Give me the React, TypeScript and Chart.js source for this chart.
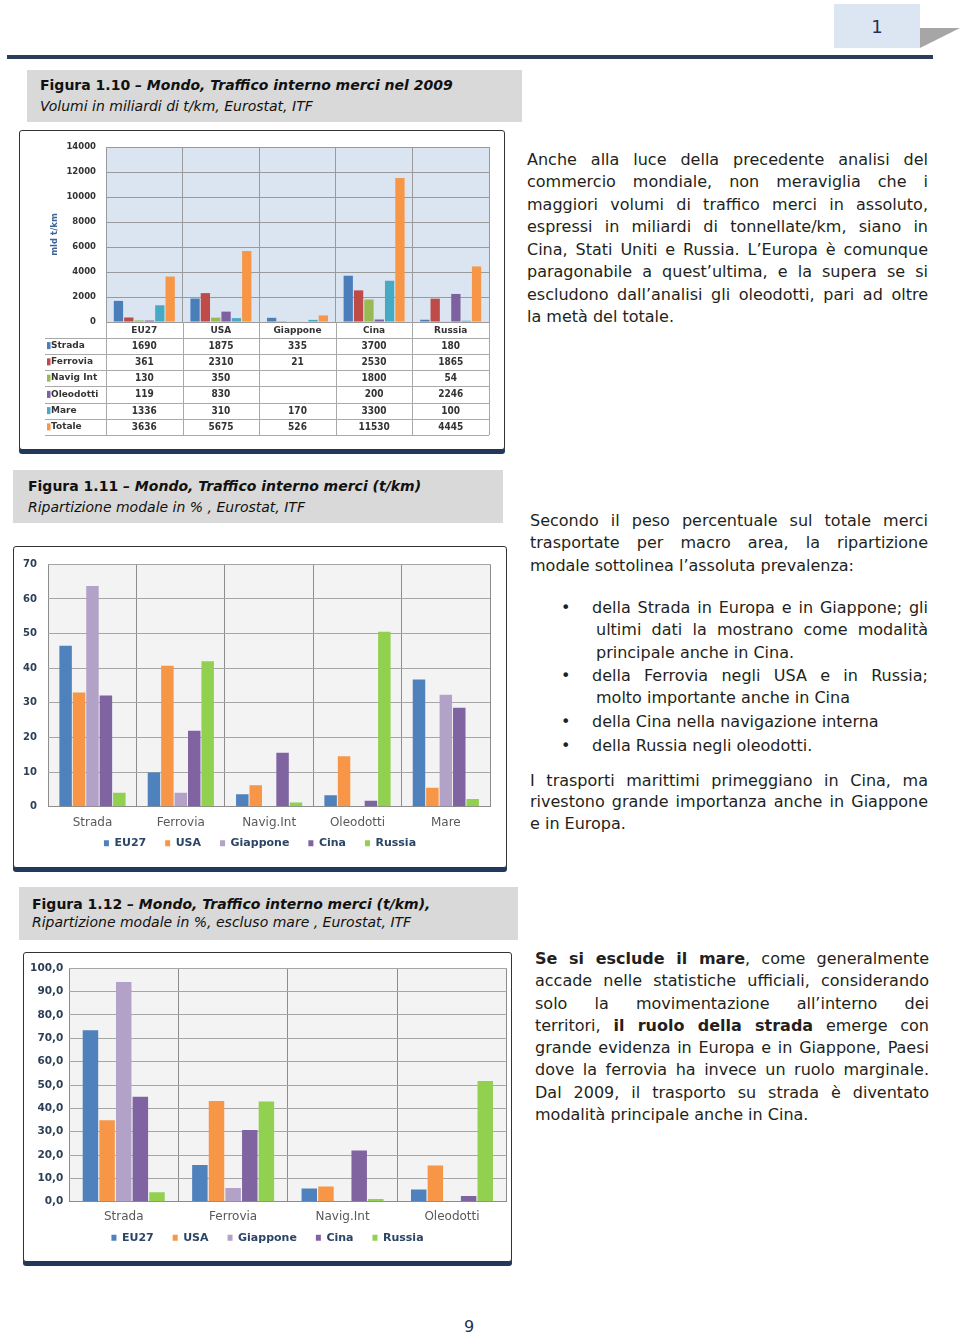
import React, { useEffect, useRef } from "react";
import { Chart, registerables } from "chart.js";

Chart.register(...registerables);
Chart.defaults.font.family = '"DejaVu Sans", sans-serif';

// ---------- Figura 1.10 : volumi (mld t/km) ----------
const areas = ["EU27", "USA", "Giappone", "Cina", "Russia"];
const modesAbs = ["Strada", "Ferrovia", "Navig Int", "Oleodotti", "Mare", "Totale"];
const stradaAbs = [1690, 1875, 335, 3700, 180];
const ferroviaAbs = [361, 2310, 21, 2530, 1865];
const navigAbs = [130, 350, null, 1800, 54];
const oleodottiAbs = [119, 830, null, 200, 2246];
const mareAbs = [1336, 310, 170, 3300, 100];
const totaleAbs = [3636, 5675, 526, 11530, 4445];
const yTicksAbs = [0, 2000, 4000, 6000, 8000, 10000, 12000, 14000];
const colorsAbs = ["#4a7ebb", "#be4b48", "#98b954", "#7d60a0", "#46aac5", "#f79646"];

// ---------- Figura 1.11 : ripartizione modale % ----------
const modesPct = ["Strada", "Ferrovia", "Navig.Int", "Oleodotti", "Mare"];
const eu27Pct = [46.5, 9.9, 3.6, 3.3, 36.7];
const usaPct = [33.0, 40.7, 6.2, 14.6, 5.5];
const giapponePct = [63.7, 4.0, null, null, 32.3];
const cinaPct = [32.1, 21.9, 15.6, 1.7, 28.6];
const russiaPct = [4.0, 42.0, 1.2, 50.5, 2.2];
const yTicksPct = [0, 10, 20, 30, 40, 50, 60, 70];

// ---------- Figura 1.12 : ripartizione modale % escluso mare ----------
const modesExcl = ["Strada", "Ferrovia", "Navig.Int", "Oleodotti"];
const eu27Excl = [73.5, 15.7, 5.7, 5.2];
const usaExcl = [34.9, 43.1, 6.5, 15.5];
const giapponeExcl = [94.1, 5.9, null, null];
const cinaExcl = [45.0, 30.7, 21.9, 2.4];
const russiaExcl = [4.1, 42.9, 1.2, 51.7];
const yTicksExcl = [0, 10, 20, 30, 40, 50, 60, 70, 80, 90, 100];

const colorsAreas = ["#4f81bd", "#f79646", "#b3a2c7", "#8064a2", "#92d050"];

const plotBg = {
  id: "plotBg",
  beforeDraw(chart: any, _args: any, opts: any) {
    const { ctx, chartArea: a } = chart;
    ctx.save();
    ctx.fillStyle = opts.color;
    ctx.fillRect(a.left, a.top, a.right - a.left, a.bottom - a.top);
    ctx.restore();
  },
};

// category names under the plot (drawn from the x scale, not clipped by the thin axis box)
const catLabels = {
  id: "catLabels",
  afterDraw(chart: any, _args: any, opts: any) {
    const { ctx, chartArea: a } = chart;
    const xs = chart.scales.x;
    ctx.save();
    ctx.font = '12px "DejaVu Sans"';
    ctx.fillStyle = "#595959";
    ctx.textAlign = "center";
    ctx.textBaseline = "middle";
    chart.data.labels.forEach((l: string, i: number) => {
      ctx.fillText(l, xs.getPixelForValue(i), a.bottom + opts.offset);
    });
    ctx.restore();
  },
};

const dataTable = {
  id: "dataTable",
  afterDraw(chart: any, _args: any, opts: any) {
    const { ctx, chartArea: a } = chart;
    const xs = chart.scales.x;
    const n = chart.data.labels.length;
    const cw = (a.right - a.left) / n;
    const top = a.bottom;
    const headerH = opts.headerH;
    const rowH = opts.rowH;
    const rows = chart.data.datasets.length;
    const bottom = top + headerH + rowH * rows;
    ctx.save();
    ctx.strokeStyle = "#a9a9a9";
    ctx.lineWidth = 1;
    for (let r = 0; r <= rows; r++) {
      const y = Math.round(top + headerH + r * rowH) + 0.5;
      ctx.beginPath();
      ctx.moveTo(opts.left, y);
      ctx.lineTo(a.right, y);
      ctx.stroke();
    }
    for (let i = 0; i <= n; i++) {
      const x = Math.round(a.left + i * cw) + 0.5;
      ctx.beginPath();
      ctx.moveTo(x, top);
      ctx.lineTo(x, bottom);
      ctx.stroke();
    }
    ctx.textBaseline = "middle";
    chart.data.datasets.forEach((ds: any, r: number) => {
      const cy = top + headerH + r * rowH + rowH / 2;
      ctx.fillStyle = ds.backgroundColor;
      ctx.fillRect(opts.left + 2, cy - 3.5, 3.5, 7);
      ctx.fillStyle = "#333";
      ctx.font = 'bold 9px "DejaVu Sans"';
      ctx.textAlign = "left";
      ctx.fillText(ds.label, opts.left + 6, cy);
      ctx.font = 'bold 10px "Liberation Sans Narrow", "DejaVu Sans Condensed", "Roboto"';
      ctx.textAlign = "center";
      ds.data.forEach((v: any, i: number) => {
        if (v === null || v === undefined) return;
        ctx.fillText(String(v), xs.getPixelForValue(i), cy + 0.5);
      });
    });
    ctx.restore();
  },
};

function configAbs(): any {
  const series = [stradaAbs, ferroviaAbs, navigAbs, oleodottiAbs, mareAbs, totaleAbs];
  return {
    type: "bar",
    data: {
      labels: areas,
      datasets: modesAbs.map((m, i) => ({
        label: m,
        data: series[i],
        backgroundColor: colorsAbs[i],
        borderWidth: 0,
        barPercentage: 0.9,
        categoryPercentage: 0.81,
      })),
    },
    plugins: [plotBg, dataTable],
    options: {
      animation: false,
      responsive: false,
      maintainAspectRatio: false,
      layout: { padding: { top: 16, right: 15, bottom: 0, left: 0 } },
      plugins: {
        legend: { display: false },
        tooltip: { enabled: false },
        plotBg: { color: "#dbe5f1" },
        dataTable: { left: 25, headerH: 15.5, rowH: 16.25 },
      },
      scales: {
        x: {
          grid: { color: "#9a9a9a", offset: true, drawTicks: false },
          border: { color: "#9a9a9a" },
          ticks: { padding: 3, color: "#333", font: { size: 9, weight: "bold" } },
          afterFit: (s: any) => {
            s.height = 127;
          },
        },
        y: {
          min: yTicksAbs[0],
          max: yTicksAbs[yTicksAbs.length - 1],
          ticks: {
            stepSize: yTicksAbs[1] - yTicksAbs[0],
            padding: 10,
            color: "#333",
            font: { size: 8.5, weight: "bold" },
            callback: (v: any) => String(v),
          },
          grid: { color: "#9a9a9a", drawTicks: false },
          border: { display: false },
          title: { display: true, text: "mld t/km", color: "#3d6399", font: { size: 8.5, weight: "bold" }, padding: { top: 30, bottom: 0 } },
          afterFit: (s: any) => {
            s.width = 86;
          },
        },
      },
    },
  };
}

function configPct(
  labels: string[],
  series: (number | null)[][],
  yTicks: number[],
  lay: any,
  fmt: (v: number) => string
): any {
  return {
    type: "bar",
    data: {
      labels,
      datasets: areas.map((a, i) => ({
        label: a,
        data: series[i],
        backgroundColor: colorsAreas[i],
        borderWidth: 0,
        barPercentage: 0.93,
        categoryPercentage: 0.76,
      })),
    },
    plugins: [plotBg, catLabels],
    options: {
      animation: false,
      responsive: false,
      maintainAspectRatio: false,
      layout: { padding: lay.padding },
      plugins: {
        tooltip: { enabled: false },
        plotBg: { color: "#f3f3f3" },
        catLabels: { offset: lay.labelOffset },
        legend: {
          display: true,
          position: "bottom",
          labels: { boxWidth: 5, boxHeight: 6, padding: 19, color: "#2a4566", font: { size: 11, weight: "bold" } },
        },
      },
      scales: {
        x: {
          grid: { color: "#8c8c8c", offset: true, drawTicks: false },
          border: { color: "#8c8c8c" },
          ticks: { display: false },
          afterFit: (s: any) => {
            s.height = lay.xH;
          },
        },
        y: {
          min: yTicks[0],
          max: yTicks[yTicks.length - 1],
          ticks: {
            stepSize: yTicks[1] - yTicks[0],
            padding: lay.yPad,
            color: "#2d3f57",
            font: { size: lay.yFont, weight: "bold" },
            callback: (v: any) => fmt(Number(v)),
          },
          grid: { color: "#a6a6a6", drawTicks: false },
          border: { display: false },
          afterFit: (s: any) => {
            s.width = lay.yW;
          },
        },
        gap: {
          type: "linear",
          position: "right",
          display: true,
          grid: { display: false },
          border: { display: false },
          ticks: { display: false },
          afterFit: (s: any) => {
            s.width = lay.rightGap;
          },
        },
      },
    },
  };
}

function ChartCanvas({ left, top, width, height, make }: any) {
  const ref = useRef<HTMLCanvasElement | null>(null);
  useEffect(() => {
    const chart = new Chart(ref.current as HTMLCanvasElement, make());
    return () => chart.destroy();
  }, []);
  return (
    <canvas
      ref={ref}
      width={width}
      height={height}
      style={{ position: "absolute", left, top, width, height }}
    />
  );
}

const TEXT = "#231f20";

function T({ x, r, y, j, children }: any) {
  return (
    <div
      style={{
        position: "absolute",
        left: x,
        top: y - 12,
        width: r - x,
        lineHeight: "22px",
        fontSize: 16,
        color: TEXT,
        textAlign: j ? "justify" : "left",
        textAlignLast: j ? "justify" : "auto",
      }}
    >
      {children}
    </div>
  );
}

function Caption({ left, top, width, height, tx, y1, y2, line1a, line1b, line2 }: any) {
  return (
    <>
      <div style={{ position: "absolute", left, top, width, height, background: "#d9d9d9" }} />
      <div style={{ position: "absolute", left: tx, top: y1 - 10, fontSize: 14, lineHeight: "18px", color: "#111", whiteSpace: "nowrap" }}>
        <span style={{ fontWeight: "bold" }}>{line1a}</span>
        <span style={{ fontWeight: "bold", fontStyle: "italic" }}>{line1b}</span>
      </div>
      <div style={{ position: "absolute", left: tx, top: y2 - 10, fontSize: 14, lineHeight: "18px", color: "#111", fontStyle: "italic", whiteSpace: "nowrap" }}>
        {line2}
      </div>
    </>
  );
}

function Frame({ left, top, width, height }: any) {
  return (
    <div
      style={{
        position: "absolute",
        left,
        top,
        width,
        height,
        boxSizing: "border-box",
        border: "1px solid #333",
        borderRadius: 3,
        boxShadow: "0 4px 0 #22385a",
        background: "#fff",
      }}
    />
  );
}

const fmtInt = (v: number) => String(v);
const fmtDec = (v: number) => v.toFixed(1).replace(".", ",");

export default function App() {
  return (
    <div
      style={{
        position: "absolute",
        left: 0,
        top: 0,
        width: 960,
        height: 1338,
        background: "#fff",
        overflow: "hidden",
        fontFamily: '"DejaVu Sans", sans-serif',
      }}
    >
      {/* page header */}
      <div style={{ position: "absolute", left: 834, top: 4, width: 86, height: 44, background: "#dce6f2", display: "flex", alignItems: "center", justifyContent: "center", fontSize: 18, color: "#1f3350" }}>
        1
      </div>
      <div style={{ position: "absolute", left: 920, top: 28, width: 40, height: 20, background: "#a6a6a6", clipPath: "polygon(0 0, 100% 0, 0 100%)" }} />
      <div style={{ position: "absolute", left: 7, top: 55, width: 926, height: 4, background: "#2b3d5b" }} />

      {/* Figura 1.10 */}
      <Caption left={27} top={70} width={495} height={52} tx={40} y1={86} y2={107}
        line1a="Figura 1.10  " line1b="– Mondo, Traffico interno merci nel 2009"
        line2="Volumi in miliardi di t/km,  Eurostat, ITF" />
      <Frame left={19} top={130} width={486} height={320} />
      <ChartCanvas left={20} top={131} width={484} height={318} make={configAbs} />

      <T x={527} r={928} y={160.7} j>Anche alla luce della precedente analisi del</T>
      <T x={527} r={928} y={183.2} j>commercio mondiale, non meraviglia che i</T>
      <T x={527} r={928} y={205.7} j>maggiori volumi di traffico merci in assoluto,</T>
      <T x={527} r={928} y={228.2} j>espressi in miliardi di tonnellate/km, siano in</T>
      <T x={527} r={928} y={250.7} j>Cina, Stati Uniti e Russia. L’Europa è comunque</T>
      <T x={527} r={928} y={273.2} j>paragonabile a quest’ultima, e la supera se si</T>
      <T x={527} r={928} y={295.7} j>escludono dall’analisi gli oleodotti, pari ad oltre</T>
      <T x={527} r={928} y={318.2}>la metà del totale.</T>

      {/* Figura 1.11 */}
      <Caption left={13} top={470} width={490} height={53} tx={28} y1={486.7} y2={508.3}
        line1a="Figura 1.11 " line1b="– Mondo, Traffico interno merci (t/km)"
        line2="Ripartizione modale in % ,  Eurostat, ITF" />
      <Frame left={13} top={546} width={494} height={322} />
      <ChartCanvas left={14} top={547} width={492} height={320}
        make={() => configPct(modesPct, [eu27Pct, usaPct, giapponePct, cinaPct, russiaPct], yTicksPct,
          { padding: { top: 15.7, right: 0, bottom: 8.2, left: 0 }, rightGap: 16, xH: 12.1, labelOffset: 16, yW: 34.3, yPad: 11.3, yFont: 10 }, fmtInt)} />

      <T x={530} r={928} y={521.7} j>Secondo il peso percentuale sul totale merci</T>
      <T x={530} r={928} y={544.3} j>trasportate per macro area, la ripartizione</T>
      <T x={530} r={928} y={566.7}>modale sottolinea l’assoluta prevalenza:</T>

      <T x={561} r={580} y={609}>•</T>
      <T x={592} r={928} y={609} j>della Strada in Europa e in Giappone; gli</T>
      <T x={596} r={928} y={631.3} j>ultimi dati la mostrano come modalità</T>
      <T x={596} r={928} y={653.6}>principale anche in Cina.</T>
      <T x={561} r={580} y={676.7}>•</T>
      <T x={592} r={928} y={676.7} j>della Ferrovia negli USA e in Russia;</T>
      <T x={596} r={928} y={699.3}>molto importante anche in Cina</T>
      <T x={561} r={580} y={722.7}>•</T>
      <T x={592} r={928} y={722.7}>della Cina nella navigazione interna</T>
      <T x={561} r={580} y={746.7}>•</T>
      <T x={592} r={928} y={746.7}>della Russia negli oleodotti.</T>

      <T x={530} r={928} y={781.7} j>I trasporti marittimi primeggiano in Cina, ma</T>
      <T x={530} r={928} y={803.3} j>rivestono grande importanza anche in Giappone</T>
      <T x={530} r={928} y={825}>e in Europa.</T>

      {/* Figura 1.12 */}
      <Caption left={19} top={887} width={499} height={53} tx={32} y1={905} y2={923}
        line1a="Figura 1.12 " line1b="– Mondo, Traffico interno merci (t/km),"
        line2="Ripartizione modale in %, escluso mare ,  Eurostat, ITF" />
      <Frame left={23} top={952} width={489} height={310} />
      <ChartCanvas left={24} top={953} width={487} height={308}
        make={() => configPct(modesExcl, [eu27Excl, usaExcl, giapponeExcl, cinaExcl, russiaExcl], yTicksExcl,
          { padding: { top: 15.3, right: 0, bottom: 7.8, left: 0 }, rightGap: 4.3, xH: 11.5, labelOffset: 15, yW: 45, yPad: 5.7, yFont: 10.5 }, fmtDec)} />

      <T x={535} r={929} y={960} j><b>Se si esclude il mare</b>, come generalmente</T>
      <T x={535} r={929} y={982.2} j>accade nelle statistiche ufficiali, considerando</T>
      <T x={535} r={929} y={1004.5} j>solo la movimentazione all’interno dei</T>
      <T x={535} r={929} y={1026.8} j>territori, <b>il ruolo della strada</b> emerge con</T>
      <T x={535} r={929} y={1049} j>grande evidenza in Europa e in Giappone, Paesi</T>
      <T x={535} r={929} y={1071.3} j>dove la ferrovia ha invece un ruolo marginale.</T>
      <T x={535} r={929} y={1093.5} j>Dal 2009, il trasporto su strada è diventato</T>
      <T x={535} r={929} y={1115.8}>modalità principale anche in Cina.</T>

      {/* page number */}
      <div style={{ position: "absolute", left: 449, top: 1316, width: 40, textAlign: "center", fontSize: 16, lineHeight: "22px", color: "#1f3350" }}>9</div>
    </div>
  );
}
